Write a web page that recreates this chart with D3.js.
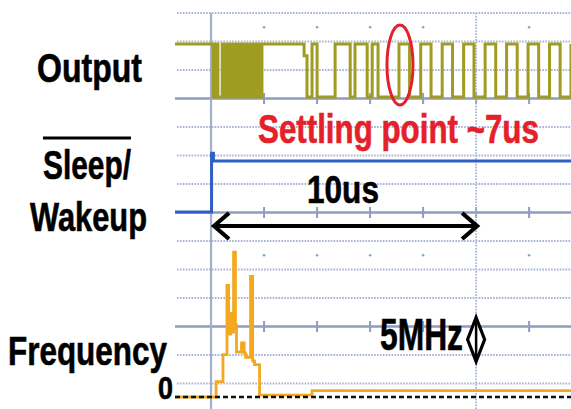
<!DOCTYPE html>
<html><head><meta charset="utf-8">
<script src="https://cdn.jsdelivr.net/npm/d3@7"></script>
<style>html,body{margin:0;padding:0;background:#fff;overflow:hidden}</style>
</head><body><svg id="c" width="571" height="409"></svg>
<script>
// ---- data (time in microseconds) ----
const timeTicks = [2, 4, 6, 8, 10, 12];
const channelLabels = ["Output", "Sleep/", "Wakeup", "Frequency"];
const zeroLabel = "0";
const settleLabel = "Settling point ~7us";
const spanLabel = "10us";
const scaleLabel = "5MHz";
const settleTime = 7.09;
const spanStart = 0, spanEnd = 10;

// Output: step levels (1 = high, 0 = low)
const outT = [-1.36, 0.08, 0.19, 0.26, 0.42, 0.53, 0.64, 0.70, 0.75, 0.81, 0.87, 0.92, 0.98, 1.04, 1.09, 1.15,
  1.21, 1.26, 1.32, 1.38, 1.43, 1.49, 1.55, 1.60, 1.66, 1.70, 1.77, 1.83, 1.92, 3.51, 3.62, 3.81, 4.00,
  4.68, 5.25, 5.43, 5.89, 6.08, 6.30, 7.09, 7.49, 7.91, 8.30, 8.72, 9.11, 9.53, 9.92, 10.34, 10.74,
  11.15, 11.55, 11.96, 12.36, 12.77, 13.17, 13.58];
const outV = [1, 0, 1, 0, 1, 0, 1, 0, 1, 0, 1, 0, 1, 0, 1, 0,
  1, 0, 1, 0, 1, 0, 1, 0, 1, 0, 1, 0, 1, 0.78, 0, 1, 0,
  1, 0, 1, 0, 1, 0, 1, 0, 1, 0, 1, 0, 1, 0, 1, 0,
  1, 0, 1, 0, 1, 0, 1];

// Sleep/Wakeup: step levels
const sleepT = [-1.36, 0.02, 0.09, 13.58];
const sleepV = [0, 1.15, 1, 1];

// Frequency (MHz), step levels
const freqT = [-1.36, 0.19, 0.45, 0.60, 0.66, 0.74, 0.79, 0.85, 0.92, 0.96, 1.15, 1.25, 1.30, 1.49, 1.57, 1.64, 1.83, 3.81, 13.58];
const freqV = [0, 1.7, 4.7, 12.4, 7.0, 9.3, 7.2, 16.1, 8.0, 5.0, 6.0, 4.9, 4.4, 13.4, 4.0, 3.6, 0.2, 0.7, 0.7];

// ---- drawing ----
const svg = d3.select("#c");
const W = 571, H = 409;
svg.append("rect").attr("width", W).attr("height", H).attr("fill", "#fff");

const x = d3.scaleLinear().domain([-1.36, 13.58]).range([175, 571]);
const rowY = d3.scaleLinear().domain([0, 13]).range([13, 383.5]);
const yOut = d3.scaleLinear().domain([0, 1]).range([97, 44]);
const ySleep = d3.scaleLinear().domain([0, 1]).range([212, 161]);
const yFreq = d3.scaleLinear().domain([0, 5]).range([397, 352]);

const grid = svg.append("g");
const solidRows = [3, 7, 11];
d3.range(0, 14).forEach(r => {
  const y = rowY(r);
  if (solidRows.includes(r)) {
    grid.append("line").attr("x1", 175).attr("x2", W).attr("y1", y).attr("y2", y)
      .attr("stroke", "#8e9cbd").attr("stroke-width", 2.5);
    timeTicks.forEach(t => {
      grid.append("line").attr("x1", x(t)).attr("x2", x(t)).attr("y1", y - 5.5).attr("y2", y + 5.5)
        .attr("stroke", "#8e9cbd").attr("stroke-width", 2);
    });
  } else {
    grid.append("line").attr("x1", 177).attr("x2", W).attr("y1", y).attr("y2", y)
      .attr("stroke", "#a6b4d6").attr("stroke-width", 1.8).attr("stroke-dasharray", "1.6 1.3");
  }
});
[0.5, 8.5].forEach(r => {
  timeTicks.filter(t => t !== 10).forEach(t => {
    grid.append("circle").attr("cx", x(t)).attr("cy", rowY(r)).attr("r", 1.3).attr("fill", "#8fa0c8");
  });
});
grid.append("line").attr("x1", x(0)).attr("x2", x(0)).attr("y1", 13).attr("y2", H)
  .attr("stroke", "#a3b0cc").attr("stroke-width", 2.2);
grid.append("line").attr("x1", x(10)).attr("x2", x(10)).attr("y1", 13).attr("y2", H)
  .attr("stroke", "#a6b4d6").attr("stroke-width", 1.8).attr("stroke-dasharray", "1.6 1.3");

// traces
const pairs = (a, b) => a.map((t, i) => [t, b[i]]);
const outLine = d3.line().x(d => x(d[0])).y(d => yOut(d[1])).curve(d3.curveStepAfter);
svg.append("path").attr("d", outLine(pairs(outT, outV))).attr("fill", "none")
  .attr("stroke", "#a09c22").attr("stroke-width", 3);

const sleepLine = d3.line().x(d => x(d[0])).y(d => ySleep(d[1])).curve(d3.curveStepAfter);
svg.append("path").attr("d", sleepLine(pairs(sleepT, sleepV))).attr("fill", "none")
  .attr("stroke", "#2f5fc4").attr("stroke-width", 3);

const freqLine = d3.line().x(d => x(d[0])).y(d => yFreq(d[1])).curve(d3.curveStepAfter);
svg.append("path").attr("d", freqLine(pairs(freqT, freqV))).attr("fill", "none")
  .attr("stroke", "#f3a820").attr("stroke-width", 2.8);

// zero baseline dashed
svg.append("line").attr("x1", 175).attr("x2", W).attr("y1", yFreq(0)).attr("y2", yFreq(0))
  .attr("stroke", "#111").attr("stroke-width", 2.4).attr("stroke-dasharray", "5 3");

// settling ellipse
svg.append("ellipse").attr("cx", x(settleTime) + 1).attr("cy", 65).attr("rx", 13).attr("ry", 40)
  .attr("fill", "none").attr("stroke", "#e4202a").attr("stroke-width", 3);

// 10us arrow
const ay = 226;
const ag = svg.append("g").attr("stroke", "#000").attr("stroke-width", 4.2).attr("fill", "none")
  .attr("stroke-linecap", "butt");
ag.append("line").attr("x1", x(spanStart) + 3).attr("x2", x(spanEnd)).attr("y1", ay).attr("y2", ay);
ag.append("polyline").attr("points", `${x(spanStart)+18},${ay-13} ${x(spanStart)+3},${ay} ${x(spanStart)+18},${ay+13}`);
ag.append("polyline").attr("points", `${x(spanEnd)-14},${ay-13} ${x(spanEnd)+1},${ay} ${x(spanEnd)-14},${ay+13}`);

// 5MHz diamond marker
const dx = x(spanEnd), dy = 339.5;
svg.append("path").attr("d", `M${dx},${dy-22} L${dx+8.5},${dy} L${dx},${dy+22} L${dx-8.5},${dy} Z`)
  .attr("fill", "#fff").attr("stroke", "#000").attr("stroke-width", 3.2).attr("stroke-linejoin", "miter");
svg.append("line").attr("x1", dx).attr("x2", dx).attr("y1", dy - 20).attr("y2", dy + 20)
  .attr("stroke", "#000").attr("stroke-width", 2.5);

// text (condensed via horizontal scale so bounding boxes stay true)
const font = "'Liberation Sans', Arial, sans-serif";
function txt(s, xx, yy, size, len, color) {
  const c = color || "#000";
  const g = svg.append("g");
  const t = g.append("text").attr("x", 0).attr("y", 0).text(s)
    .attr("font-family", font).attr("font-weight", "bold").attr("font-size", size)
    .attr("fill", c).attr("stroke", c).attr("stroke-width", 0.6);
  const natural = t.node().getComputedTextLength() || len;
  g.attr("transform", `translate(${xx},${yy}) scale(${len / natural},1)`);
  return g;
}
txt(channelLabels[0], 37, 82, 40, 105);
txt(channelLabels[1], 43, 179, 40, 88);
svg.append("line").attr("x1", 43).attr("x2", 131).attr("y1", 138).attr("y2", 138)
  .attr("stroke", "#000").attr("stroke-width", 3);
txt(channelLabels[2], 30, 231, 40, 117);
txt(channelLabels[3], 8, 365, 40, 159);
txt(zeroLabel, 158, 399, 31, 15);
txt(settleLabel, 258, 143, 41, 281, "#e4202a");
txt(spanLabel, 307, 203, 39, 72);
txt(scaleLabel, 380, 350, 44, 83);
</script></body></html>
